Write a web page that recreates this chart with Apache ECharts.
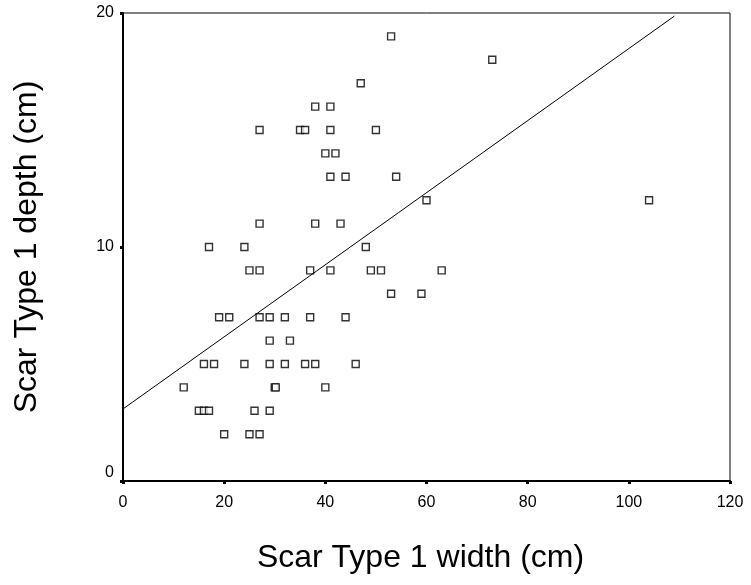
<!DOCTYPE html>
<html>
<head>
<meta charset="utf-8">
<style>
  html, body { margin: 0; padding: 0; background: #fff; }
  #chart { width: 751px; height: 585px; }
</style>
<script src="https://cdn.jsdelivr.net/npm/echarts@6/dist/echarts.min.js"></script>
</head>
<body>
<div id="chart"></div>
<script>
// scar width (x) and depth (y)
var widths = [53, 47, 38, 41, 27, 35, 36, 41, 50, 40, 42, 41, 44, 54, 60, 104, 73,
  27, 38, 43, 17, 24, 48, 25, 27, 37, 41, 49, 51, 63, 53, 59,
  19, 21, 27, 29, 32, 37, 44, 29, 33, 16, 18, 24, 29, 32, 36, 38, 46,
  12, 30, 30.2, 40, 15, 16, 17, 26, 29, 20, 25, 27]
var depths = [19, 17, 16, 16, 15, 15, 15, 15, 15, 14, 14, 13, 13, 13, 12, 12, 18,
  11, 11, 11, 10, 10, 10, 9, 9, 9, 9, 9, 9, 9, 8, 8,
  7, 7, 7, 7, 7, 7, 7, 6, 6, 5, 5, 5, 5, 5, 5, 5, 5,
  4, 4, 4, 4, 3, 3, 3, 3, 3, 2, 2, 2]
var xTicks = [0, 20, 40, 60, 80, 100, 120]
var yTicks = [0, 10, 20]

// fit line as drawn in the picture
var fitRange = [0, 109]
var fitIntercept = 3.08
var fitSlope = 0.154

var fitData = fitRange.map(function (x) { return [x, fitIntercept + fitSlope * x] })
var points = widths.map(function (w, i) { return [w, depths[i]] })

var chart = echarts.init(document.getElementById('chart'))
chart.setOption({
  animation: false,
  textStyle: { fontFamily: 'Liberation Sans, Arial, sans-serif' },
  grid: {
    left: 123, right: 21, top: 13, bottom: 104,
    show: true, borderColor: '#000', borderWidth: 1
  },
  xAxis: {
    type: 'value',
    min: xTicks[0], max: xTicks[xTicks.length - 1], interval: 20,
    name: 'Scar Type 1 width (cm)',
    nameLocation: 'middle', nameGap: 61,
    nameTextStyle: { fontSize: 32, color: '#000', padding: [0, 12, 0, 0] },
    axisLine: { lineStyle: { color: '#000', width: 2 } },
    axisTick: { length: 3, lineStyle: { color: '#000', width: 3 } },
    axisLabel: { fontSize: 16, color: '#000', margin: 14 },
    splitLine: { show: false }
  },
  yAxis: {
    type: 'value',
    min: yTicks[0], max: yTicks[yTicks.length - 1], interval: 10,
    name: 'Scar Type 1 depth (cm)',
    nameLocation: 'middle', nameGap: 80,
    nameTextStyle: { fontSize: 32, color: '#000' },
    axisLine: { lineStyle: { color: '#000', width: 2 } },
    axisTick: { length: 3, lineStyle: { color: '#000', width: 3 } },
    axisLabel: { fontSize: 16, color: '#000', margin: 9, verticalAlignMinLabel: 'bottom' },
    splitLine: { show: false }
  },
  series: [{
    type: 'line',
    data: fitData,
    showSymbol: false,
    silent: true,
    lineStyle: { color: '#000', width: 1 }
  }, {
    type: 'scatter',
    data: points,
    symbol: 'rect',
    symbolSize: 7,
    itemStyle: { color: '#fff', borderColor: '#000', borderWidth: 1.4 }
  }]
})
</script>
</body>
</html>
